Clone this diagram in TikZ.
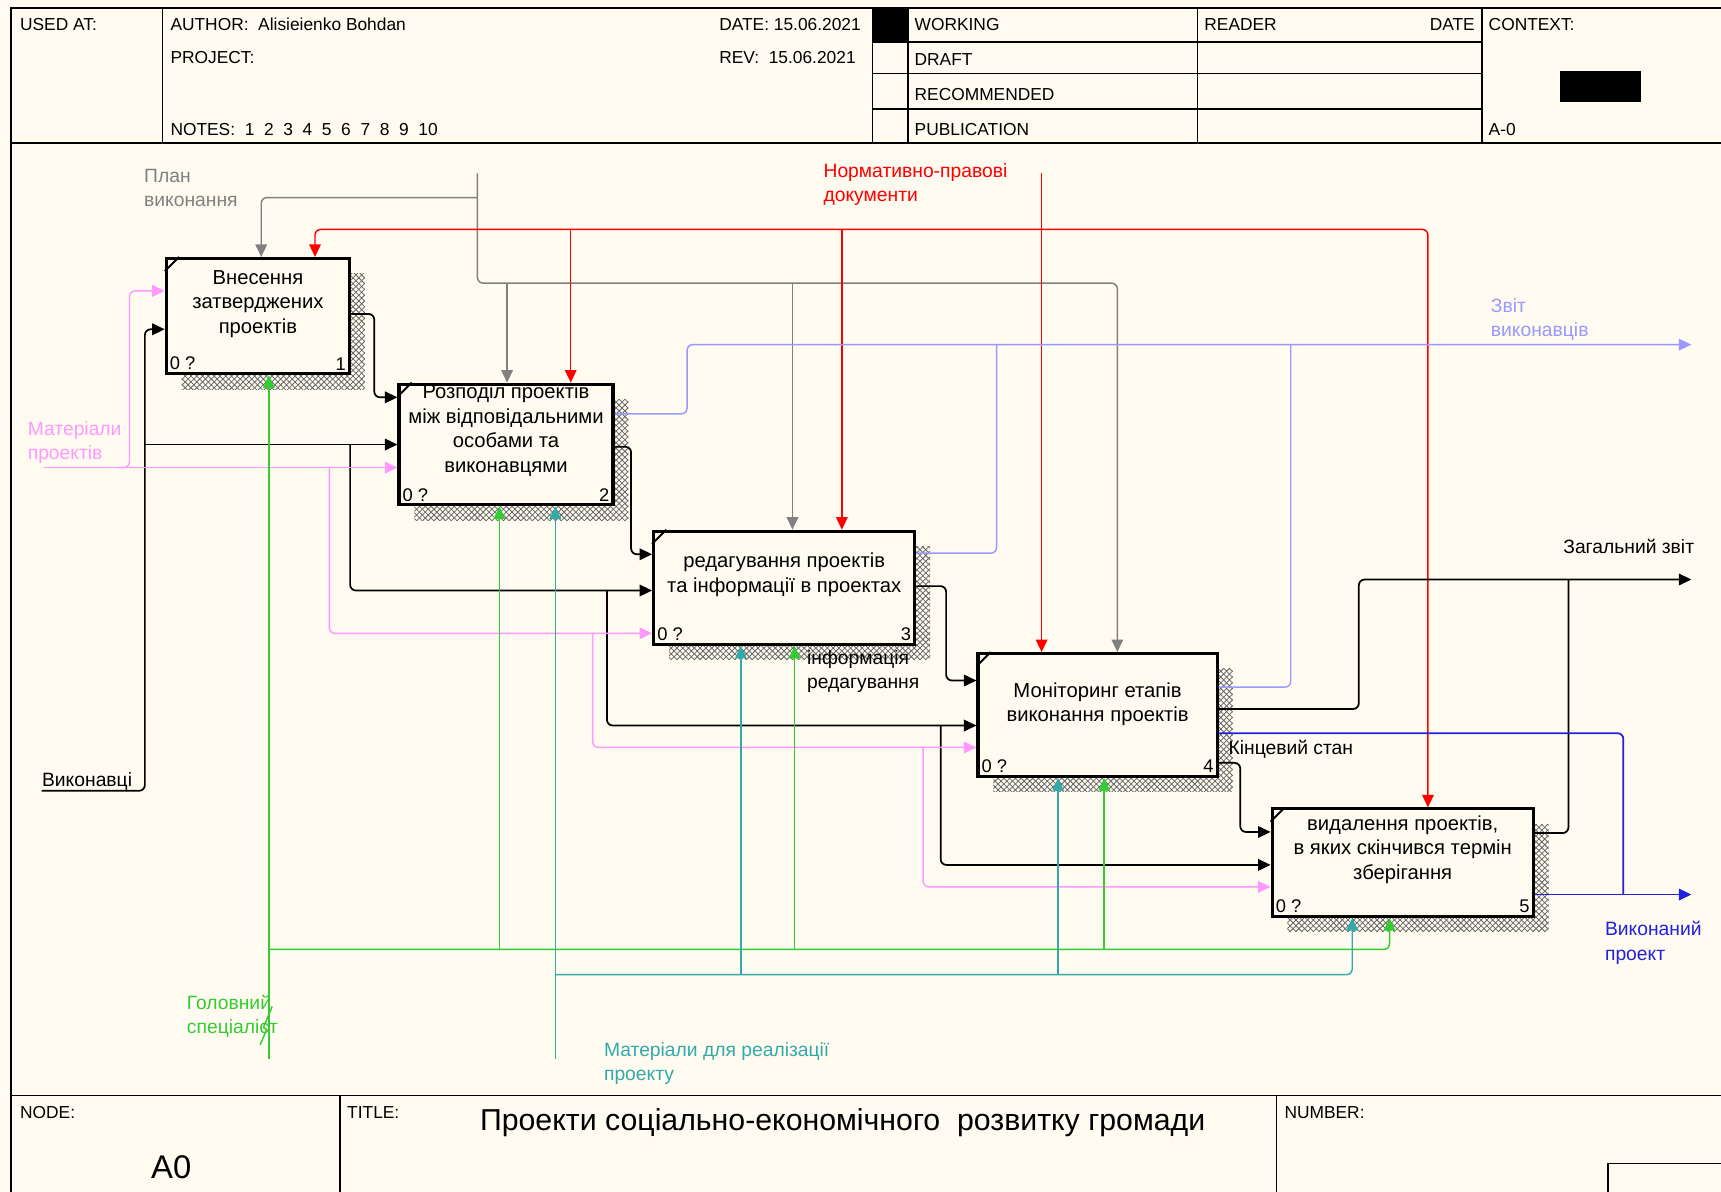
\documentclass[tikz,border=0pt]{standalone}
\usepackage{fontspec}
\setmainfont{Liberation Sans}
\usetikzlibrary{arrows.meta,shadows,patterns}

\definecolor{idefbg}{HTML}{FFFBF0}
\definecolor{ctrlgray}{HTML}{808080}
\definecolor{ctrlred}{HTML}{FF0000}
\definecolor{outlav}{HTML}{9999FF}
\definecolor{inpink}{HTML}{FF99FF}
\definecolor{mechgreen}{HTML}{33CC33}
\definecolor{mechteal}{HTML}{33AAAA}
\definecolor{outblue}{HTML}{2222DD}

\tikzset{
  fnbox/.style={draw, line width=1.6pt, fill=idefbg, inner sep=0pt,
    general shadow={shadow xshift=0.28cm, shadow yshift=-0.28cm,
      pattern=crosshatch, pattern color=black!60}},
  fntext/.style={font=\fontsize{10.5}{12.8}\selectfont, align=center, inner sep=0pt},
  fnnum/.style={font=\fontsize{9.5}{11}\selectfont, inner sep=2.5pt},
  hdr/.style={font=\fontsize{9}{10}\selectfont, anchor=west, inner sep=0pt},
  lbl/.style={font=\fontsize{10}{12.6}\selectfont, align=left, anchor=west, inner sep=0pt},
  flow/.style={rounded corners=3pt, line width=0.75pt},
  arr/.style={flow, -{Triangle[length=6.5pt,width=6pt]}}
}

\begin{document}
\begin{tikzpicture}[x=0.02cm,y=-0.02cm]
\useasboundingbox (0,0) rectangle (1568,1086);
\fill[idefbg] (0,0) rectangle (1568,1086);

% frame, header and footer
\draw[line width=0.9pt] (10,1086) -- (10,7) -- (1568,7);
\draw[line width=0.9pt] (10,130) -- (1568,130);
\draw[line width=0.9pt] (10,998) -- (1568,998);
\foreach \xx in {148,795,827,1091,1350}
  \draw[line width=0.9pt] (\xx,7) -- (\xx,130);
\foreach \yy in {38,67,99}
  \draw[line width=0.9pt] (795,\yy) -- (1350,\yy);
\fill (795,7) rectangle (827,38);
\fill (1421,65) rectangle (1495,93);
\draw[line width=0.9pt] (310,998) -- (310,1086);
\draw[line width=0.9pt] (1163,998) -- (1163,1086);
\draw[line width=0.9pt] (1568,1060) -- (1465,1060) -- (1465,1086);

\node[hdr] (usedat) at (18,22) {USED AT:};
\node[hdr] (author) at (155,22) {AUTHOR:\ \ Alisieienko Bohdan};
\node[hdr] (project) at (155,52) {PROJECT:};
\node[hdr] (notes) at (155,118) {NOTES:\ \ 1\ \ 2\ \ 3\ \ 4\ \ 5\ \ 6\ \ 7\ \ 8\ \ 9\ \ 10};
\node[hdr] (date) at (655,22) {DATE: 15.06.2021};
\node[hdr] (rev) at (655,52) {REV:\ \ 15.06.2021};
\node[hdr] (working) at (833,22) {WORKING};
\node[hdr] (draft) at (833,54) {DRAFT};
\node[hdr] (recom) at (833,86) {RECOMMENDED};
\node[hdr] (public) at (833,118) {PUBLICATION};
\node[hdr] (reader) at (1097,22) {READER};
\node[hdr, anchor=east] (rdate) at (1344,22) {DATE};
\node[hdr] (context) at (1356,22) {CONTEXT:};
\node[hdr] (ctxnode) at (1356,118) {A-0};
\node[hdr] (nodelbl) at (18,1014) {NODE:};
\node[hdr] (titlelbl) at (316,1014) {TITLE:};
\node[hdr] (numlbl) at (1170,1014) {NUMBER:};
\node[font=\fontsize{17}{20}\selectfont] (nodeid) at (156,1063) {A0};
\node[font=\fontsize{15.7}{18}\selectfont, anchor=west, inner sep=0pt] (title) at (437,1023)
  {Проекти соціально-економічного\ \ розвитку громади};

% function boxes
\node[fnbox, minimum width=3.34cm, minimum height=2.1cm,
  label={[fnnum,anchor=south west]south west:0 ?},
  label={[fnnum,anchor=south east]south east:1}] (b1) at (235,288) {};
\node[fnbox, minimum width=3.9cm, minimum height=2.2cm,
  label={[fnnum,anchor=south west]south west:0 ?},
  label={[fnnum,anchor=south east]south east:2}] (b2) at (461,405) {};
\node[fnbox, minimum width=4.76cm, minimum height=2.06cm,
  label={[fnnum,anchor=south west]south west:0 ?},
  label={[fnnum,anchor=south east]south east:3}] (b3) at (714.5,535.5) {};
\node[fnbox, minimum width=4.36cm, minimum height=2.24cm,
  label={[fnnum,anchor=south west]south west:0 ?},
  label={[fnnum,anchor=south east]south east:4}] (b4) at (1000,651.5) {};
\node[fnbox, minimum width=4.76cm, minimum height=1.96cm,
  label={[fnnum,anchor=south west]south west:0 ?},
  label={[fnnum,anchor=south east]south east:5}] (b5) at (1278,786) {};
\foreach \b in {b1,b2,b3,b4,b5}
  \draw[line width=1pt] ([yshift=-0.26cm]\b.north west) -- ([xshift=0.26cm]\b.north west);

\node[fntext] (t1) at ([yshift=0.22cm]b1.center) {Внесення\\затверджених\\проектів};
\node[fntext] (t2) at ([yshift=0.26cm]b2.center) {Розподіл проектів\\між відповідальними\\особами та\\виконавцями};
\node[fntext] (t3) at ([yshift=0.24cm]b3.center) {редагування проектів\\та інформації в проектах};
\node[fntext] (t4) at ([yshift=0.2cm]b4.center) {Моніторинг етапів\\виконання проектів};
\node[fntext] (t5) at ([yshift=0.24cm]b5.center) {видалення проектів,\\в яких скінчився термін\\зберігання};

% arrow labels
\node[lbl, text=ctrlgray] (plan) at (131,171) {План\\виконання};
\node[lbl, text=ctrlred] (norm) at (750,168) {Нормативно-правові\\документи};
\node[lbl, text=outlav] (zvit) at (1358,291) {Звіт\\виконавців};
\node[lbl, text=inpink] (matp) at (25,403) {Матеріали\\проектів};
\node[lbl] (vyk) at (38,712) {Виконавці};
\node[lbl] (zag) at (1424,498) {Загальний звіт};
\node[lbl] (info) at (735,612) {інформація\\редагування};
\node[lbl] (kinc) at (1119,683) {Кінцевий стан};
\node[lbl, text=outblue] (vykon) at (1462,859) {Виконаний\\проект};
\node[lbl, text=mechgreen] (golov) at (170,926) {Головний\\спеціаліст};
\node[lbl, text=mechteal] (matr) at (550,969) {Матеріали для реалізації\\проекту};

% controls
\draw[arr, ctrlgray] (435,158) -- (435,258) -- (1018,258) -- (b4.north -| 1018,0);
\draw[arr, ctrlgray] (435,180) -- (238,180) -- (b1.north -| 238,0);
\draw[arr, ctrlgray] (462,258) -- (b2.north -| 462,0);
\draw[arr, ctrlgray] (722,258) -- (b3.north -| 722,0);

\draw[arr, ctrlred] (949,158) -- (b4.north -| 949,0);
\draw[arr, ctrlred] (949,209) -- (287,209) -- (b1.north -| 287,0);
\draw[arr, ctrlred] (949,209) -- (1301,209) -- (b5.north -| 1301,0);
\draw[arr, ctrlred] (520,209) -- (b2.north -| 520,0);
\draw[arr, ctrlred] (767,209) -- (b3.north -| 767,0);

% outputs
\draw[arr, outlav] (b2.east |- 0,377) -- (626,377) -- (626,314) -- (1541,314);
\draw[flow, outlav] (b3.east |- 0,504) -- (908,504) -- (908,314);
\draw[flow, outlav] (b4.east |- 0,626) -- (1176,626) -- (1176,314);

\draw[arr, line width=0.9pt] (b4.east |- 0,646) -- (1238,646) -- (1238,528) -- (1541,528);
\draw[flow, line width=0.9pt] (b5.east |- 0,759) -- (1429,759) -- (1429,528);

\draw[flow, outblue, line width=0.9pt] (b4.east |- 0,668) -- (1479,668) -- (1479,815);
\draw[arr, outblue, line width=0.9pt] (b5.east |- 0,815) -- (1541,815);

% box to box
\draw[arr, line width=0.9pt] (b1.east |- 0,286) -- (341,286) -- (341,362) -- (b2.west |- 0,362);
\draw[arr, line width=0.9pt] (b2.east |- 0,407) -- (575,407) -- (575,505) -- (b3.west |- 0,505);
\draw[arr, line width=0.9pt] (b3.east |- 0,534) -- (862,534) -- (862,620) -- (b4.west |- 0,620);
\draw[arr, line width=0.9pt] (b4.east |- 0,695) -- (1130,695) -- (1130,758) -- (b5.west |- 0,758);

% inputs
\draw[arr, line width=0.9pt] (vyk.south west) -| (132,300) -- (b1.west |- 0,300);
\draw[arr, line width=0.9pt] (132,405) -- (b2.west |- 0,405);
\draw[arr, line width=0.9pt] (319,405) -- (319,538) -- (b3.west |- 0,538);
\draw[arr, line width=0.9pt] (553,538) -- (553,661) -- (b4.west |- 0,661);
\draw[arr, line width=0.9pt] (857,661) -- (857,788) -- (b5.west |- 0,788);

\draw[arr, inpink] (40,426) -- (b2.west |- 0,426);
\draw[arr, inpink] (108,426) -| (118,265) -- (b1.west |- 0,265);
\draw[arr, inpink] (300,426) -- (300,577) -- (b3.west |- 0,577);
\draw[arr, inpink] (540,577) -- (540,681) -- (b4.west |- 0,681);
\draw[arr, inpink] (841,681) -- (841,808) -- (b5.west |- 0,808);

% mechanisms
\draw[arr, mechgreen] (245,965) -- (b1.south -| 245,0);
\draw[arr, mechgreen] (245,865) -- (1266,865) -- (b5.south -| 1266,0);
\draw[arr, mechgreen] (455,865) -- (b2.south -| 455,0);
\draw[arr, mechgreen] (724,865) -- (b3.south -| 724,0);
\draw[arr, mechgreen] (1006,865) -- (b4.south -| 1006,0);
\draw[mechgreen, line width=0.75pt] (237,952) -- (243,938) -- (240,936) -- (248,917);

\draw[arr, mechteal] (506,965) -- (b2.south -| 506,0);
\draw[arr, mechteal] (506,888) -- (1232,888) -- (b5.south -| 1232,0);
\draw[arr, mechteal] (675,888) -- (b3.south -| 675,0);
\draw[arr, mechteal] (964,888) -- (b4.south -| 964,0);
\end{tikzpicture}
\end{document}
